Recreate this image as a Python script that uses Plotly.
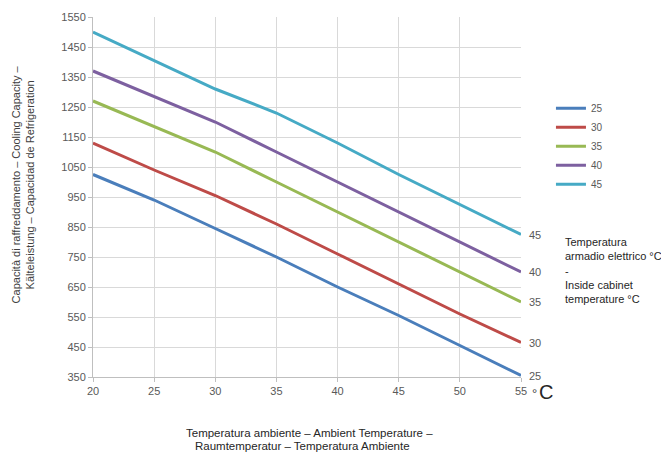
import plotly.graph_objects as go

ambient = [20, 25, 30, 35, 40, 45, 50, 55]
cabinet_labels = ["25", "30", "35", "40", "45"]
cap_25 = [1025, 940, 845, 750, 650, 555, 455, 355]
cap_30 = [1130, 1040, 955, 860, 760, 660, 560, 465]
cap_35 = [1270, 1185, 1100, 1000, 900, 800, 700, 600]
cap_40 = [1370, 1285, 1200, 1100, 1000, 900, 800, 700]
cap_45 = [1500, 1405, 1310, 1230, 1130, 1025, 925, 825]
series = [cap_25, cap_30, cap_35, cap_40, cap_45]
colors = ["#4a7ebb", "#be4b48", "#98b954", "#7d60a0", "#46aac5"]
y_ticks = list(range(350, 1551, 100))
x_ticks = list(range(20, 56, 5))

FONT = "Liberation Sans, Arial, sans-serif"

fig = go.Figure()
for lab, vals, col in zip(cabinet_labels, series, colors):
    fig.add_trace(go.Scatter(x=ambient, y=vals, mode="lines", name=lab,
                             line=dict(color=col, width=3)))
    fig.add_annotation(x=ambient[-1], y=vals[-1], xref="x", yref="y", text=lab,
                       showarrow=False, xanchor="left", yanchor="middle",
                       xshift=6, font=dict(family=FONT, size=11, color="#595959"))

fig.update_layout(
    width=661, height=444,
    margin=dict(l=85, r=148, t=9, b=75),
    paper_bgcolor="white", plot_bgcolor="white",
    font=dict(family=FONT, size=11, color="#595959"),
    showlegend=True,
    legend=dict(x=1.07, y=0.787, xanchor="left", yanchor="top",
                font=dict(family=FONT, size=10, color="#595959"),
                itemwidth=30, tracegroupgap=0, bgcolor="rgba(0,0,0,0)"),
    xaxis=dict(range=[20, 55], tickvals=x_ticks, showgrid=True, gridcolor="#d9d9d9",
               gridwidth=1, showline=True, linecolor="#bfbfbf", ticks="outside",
               ticklen=4, tickcolor="#bfbfbf", zeroline=False, automargin=False,
               tickfont=dict(size=11, color="#595959")),
    yaxis=dict(range=[350, 1550], tickvals=y_ticks, showgrid=True, gridcolor="#d9d9d9",
               gridwidth=1, showline=True, linecolor="#bfbfbf", ticks="outside",
               ticklen=4, tickcolor="#bfbfbf", zeroline=False, automargin=False,
               tickfont=dict(size=11, color="#595959")),
)

# y-axis title (two lines, rotated)
fig.add_annotation(xref="paper", yref="paper", x=0, y=0.535, xshift=-85,
                   text="Capacità di raffreddamento – Cooling Capacity –<br>Kälteleistung – Capacidad de Refrigeration",
                   textangle=-90, showarrow=False, align="center",
                   font=dict(family=FONT, size=11, color="#404040"))
# x-axis title (two lines)
fig.add_annotation(xref="paper", yref="paper", x=0.505, y=0, yshift=-56,
                   yanchor="middle", xanchor="center",
                   text="Temperatura ambiente – Ambient Temperature –",
                   showarrow=False, font=dict(family=FONT, size=11.5, color="#262626"))
fig.add_annotation(xref="paper", yref="paper", x=0.49, y=0, yshift=-69,
                   yanchor="middle", xanchor="center",
                   text="Raumtemperatur – Temperatura Ambiente",
                   showarrow=False, font=dict(family=FONT, size=11.5, color="#262626"))
# °C unit
fig.add_annotation(xref="paper", yref="paper", x=1, y=0, xshift=9, yshift=-16,
                   xanchor="left", yanchor="middle", text="°",
                   showarrow=False, font=dict(family=FONT, size=13, color="#404040"))
fig.add_annotation(xref="paper", yref="paper", x=1, y=0, xshift=16, yshift=-15,
                   xanchor="left", yanchor="middle", text="C",
                   showarrow=False, font=dict(family=FONT, size=20, color="#262626"))
# cabinet temperature note
fig.add_annotation(xref="paper", yref="paper", x=1, y=0.297, xshift=42,
                   xanchor="left", yanchor="middle", align="left",
                   text="Temperatura<br>armadio elettrico °C<br>-<br>Inside cabinet<br>temperature °C",
                   showarrow=False, font=dict(family=FONT, size=11, color="#262626"))

fig.write_html("out.html")
